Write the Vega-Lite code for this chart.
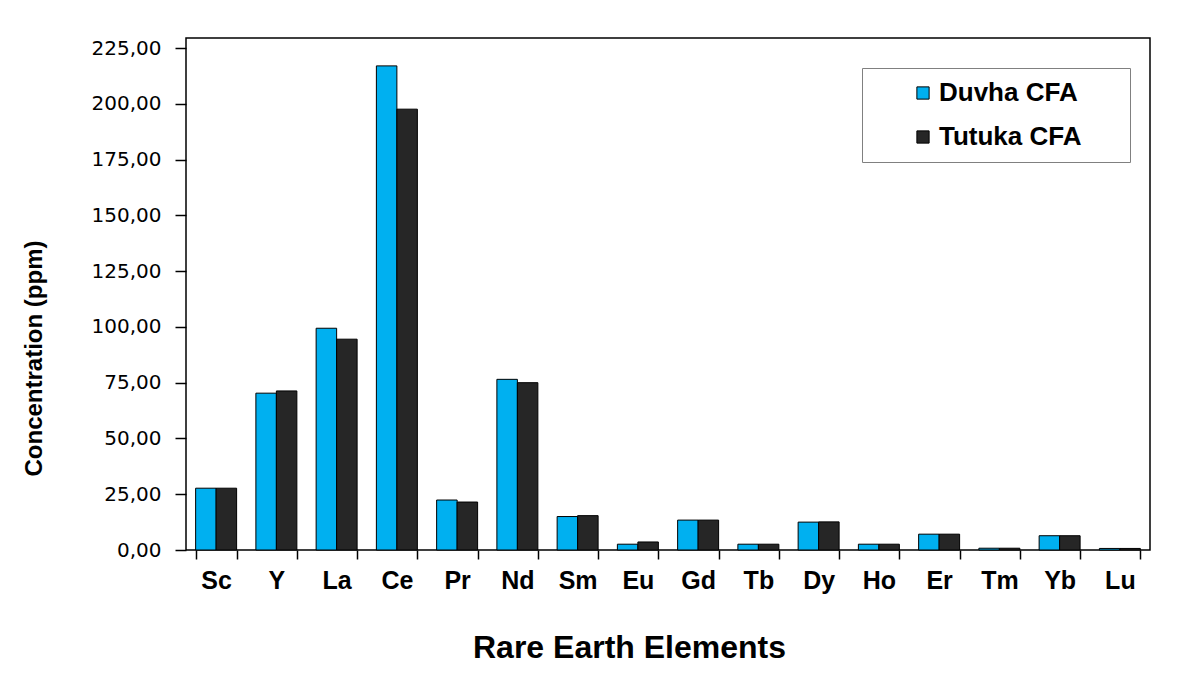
{
  "$schema": "https://vega.github.io/schema/vega-lite/v6.json",
  "width": 964,
  "height": 512,
  "autosize": {"type": "none"},
  "padding": {"left": 186, "top": 38, "right": 36, "bottom": 136},
  "background": "white",
  "data": {
    "values": [
      {"element": "Sc", "source": "Duvha CFA", "ppm": 27.7},
      {"element": "Sc", "source": "Tutuka CFA", "ppm": 27.7},
      {"element": "Y", "source": "Duvha CFA", "ppm": 70.3},
      {"element": "Y", "source": "Tutuka CFA", "ppm": 71.3},
      {"element": "La", "source": "Duvha CFA", "ppm": 99.4},
      {"element": "La", "source": "Tutuka CFA", "ppm": 94.5},
      {"element": "Ce", "source": "Duvha CFA", "ppm": 217.0},
      {"element": "Ce", "source": "Tutuka CFA", "ppm": 197.6},
      {"element": "Pr", "source": "Duvha CFA", "ppm": 22.4},
      {"element": "Pr", "source": "Tutuka CFA", "ppm": 21.5},
      {"element": "Nd", "source": "Duvha CFA", "ppm": 76.5},
      {"element": "Nd", "source": "Tutuka CFA", "ppm": 75.0},
      {"element": "Sm", "source": "Duvha CFA", "ppm": 15.0},
      {"element": "Sm", "source": "Tutuka CFA", "ppm": 15.4},
      {"element": "Eu", "source": "Duvha CFA", "ppm": 2.6},
      {"element": "Eu", "source": "Tutuka CFA", "ppm": 3.6},
      {"element": "Gd", "source": "Duvha CFA", "ppm": 13.4},
      {"element": "Gd", "source": "Tutuka CFA", "ppm": 13.4},
      {"element": "Tb", "source": "Duvha CFA", "ppm": 2.6},
      {"element": "Tb", "source": "Tutuka CFA", "ppm": 2.6},
      {"element": "Dy", "source": "Duvha CFA", "ppm": 12.5},
      {"element": "Dy", "source": "Tutuka CFA", "ppm": 12.6},
      {"element": "Ho", "source": "Duvha CFA", "ppm": 2.6},
      {"element": "Ho", "source": "Tutuka CFA", "ppm": 2.6},
      {"element": "Er", "source": "Duvha CFA", "ppm": 7.1},
      {"element": "Er", "source": "Tutuka CFA", "ppm": 7.1},
      {"element": "Tm", "source": "Duvha CFA", "ppm": 0.8},
      {"element": "Tm", "source": "Tutuka CFA", "ppm": 0.8},
      {"element": "Yb", "source": "Duvha CFA", "ppm": 6.4},
      {"element": "Yb", "source": "Tutuka CFA", "ppm": 6.4},
      {"element": "Lu", "source": "Duvha CFA", "ppm": 0.7},
      {"element": "Lu", "source": "Tutuka CFA", "ppm": 0.7}
    ]
  },
  "mark": {"type": "bar", "stroke": "black", "strokeWidth": 1},
  "encoding": {
    "x": {
      "field": "element",
      "type": "nominal",
      "sort": ["Sc","Y","La","Ce","Pr","Nd","Sm","Eu","Gd","Tb","Dy","Ho","Er","Tm","Yb","Lu"],
      "scale": {"paddingInner": 0.32, "paddingOuter": 0.16},
      "axis": {
        "title": "Rare Earth Elements",
        "labelAngle": 0,
        "domain": false,
        "tickBand": "extent",
        "tickSize": 9,
        "tickWidth": 1.5,
        "tickColor": "black",
        "labelPadding": 9,
        "labelFont": "Liberation Sans Narrow, Liberation Sans, Arial",
        "labelFontWeight": "bold",
        "labelFontSize": 25,
        "labelColor": "black",
        "titleFont": "Liberation Sans Narrow, Liberation Sans, Arial",
        "titleFontWeight": "bold",
        "titleFontSize": 32,
        "titleColor": "black",
        "titlePadding": 39,
        "titleX": 443
      }
    },
    "xOffset": {"field": "source", "type": "nominal", "scale": {"paddingInner": 0, "paddingOuter": 0}},
    "y": {
      "field": "ppm",
      "type": "quantitative",
      "scale": {"domain": [0, 229.5], "nice": false, "zero": true},
      "axis": {
        "title": "Concentration (ppm)",
        "values": [0, 25, 50, 75, 100, 125, 150, 175, 200, 225],
        "labelExpr": "replace(format(datum.value, '.2f'), '.', ',')",
        "grid": false,
        "domain": false,
        "tickSize": 11,
        "tickWidth": 1.5,
        "tickColor": "black",
        "labelPadding": 14,
        "labelFont": "DejaVu Sans",
        "labelFontSize": 20,
        "labelColor": "black",
        "titleFont": "Liberation Sans, Arial",
        "titleFontWeight": "bold",
        "titleFontSize": 24,
        "titleColor": "black",
        "titlePadding": 45,
        "titleY": 320
      }
    },
    "color": {
      "field": "source",
      "type": "nominal",
      "scale": {"domain": ["Duvha CFA", "Tutuka CFA"], "range": ["#00B0F0", "#262626"]},
      "legend": {
        "title": null,
        "orient": "none",
        "legendX": 676,
        "legendY": 30,
        "strokeColor": "#808080",
        "fillColor": "white",
        "padding": 12,
        "symbolType": "square",
        "symbolSize": 150,
        "symbolStrokeColor": "black",
        "symbolStrokeWidth": 1,
        "symbolOffset": 36,
        "labelOffset": 3,
        "rowPadding": 18,
        "labelLimit": 400,
        "labelFont": "Liberation Sans, Arial",
        "labelFontWeight": "bold",
        "labelFontSize": 26,
        "labelColor": "black",
        "labelExpr": "datum.label + '     \u200b'"
      }
    }
  },
  "config": {
    "view": {"stroke": "black", "strokeWidth": 1.5}
  }
}
